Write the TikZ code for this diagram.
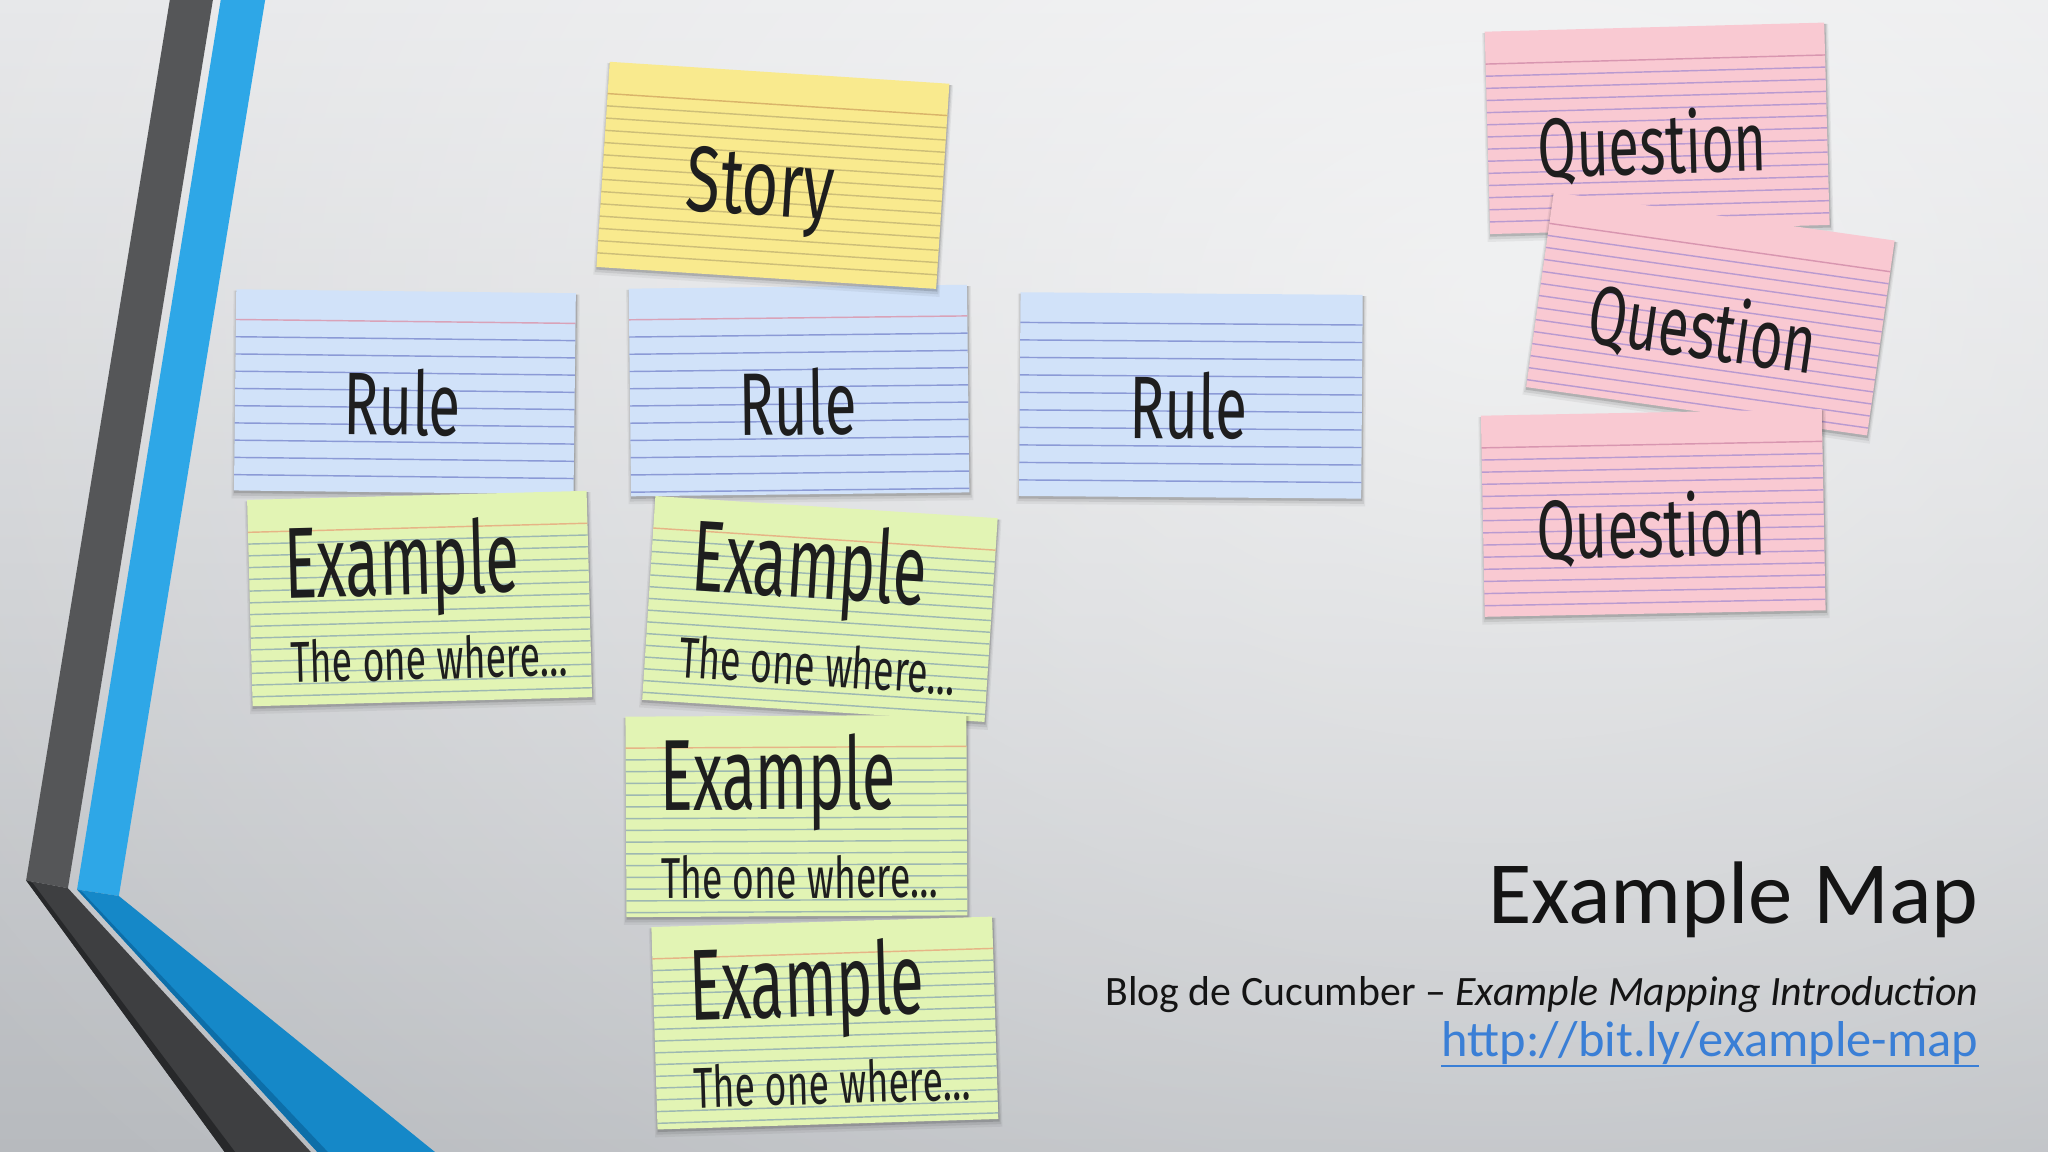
\documentclass[tikz,border=0pt]{standalone}
\usepackage{fontspec}
\setmainfont{Carlito}
\newfontfamily\handfont{Fira Sans}
\usepackage{graphicx}
\usetikzlibrary{fadings}

\definecolor{bgtop}{HTML}{E5E6E8}
\definecolor{bgbot}{HTML}{B7BABE}
\definecolor{darkup}{HTML}{555658}
\definecolor{darklow}{HTML}{3E3F41}
\definecolor{darkedge}{HTML}{27282A}
\definecolor{blueup}{HTML}{2EA7E7}
\definecolor{bluelow}{HTML}{1588C8}
\definecolor{blueedge}{HTML}{0D6EA8}
\definecolor{titlecol}{HTML}{141414}
\definecolor{urlcol}{HTML}{3A7FD6}
\definecolor{inkcol}{HTML}{1E1E1E}
% card colours
\definecolor{Yfill}{HTML}{F9EA8E}
\definecolor{Yline}{HTML}{CDBE78}
\definecolor{Ytop}{HTML}{D9B46A}
\definecolor{Bfill}{HTML}{D1E2F9}
\definecolor{Bline}{HTML}{8B9AD6}
\definecolor{Btop}{HTML}{D9A2B8}
\definecolor{Cfill}{HTML}{D1E2F9}
\definecolor{Cline}{HTML}{8B9AD6}
\definecolor{Ctop}{HTML}{8B9AD6}
\definecolor{Gfill}{HTML}{E2F4B4}
\definecolor{Gline}{HTML}{9DB8B2}
\definecolor{Gtop}{HTML}{E6B486}
\definecolor{Pfill}{HTML}{F9C9D2}
\definecolor{Pline}{HTML}{B99AD0}
\definecolor{Ptop}{HTML}{D896B0}

\tikzfading[name=bgglow, inner color=transparent!0, outer color=transparent!100]

\tikzset{
  cardline/.style={line width=0.55pt},
  handtext/.style={anchor=base, inner sep=0pt, transform shape, text=inkcol, font=\handfont},
  slidetext/.style={anchor=base east, inner sep=0pt, text=titlecol}
}

% #1 cx, #2 cy, #3 angle, #4 w, #5 h, #6 type, #7 line spacing, #8 header fraction, #9 content
\newcommand\idxcard[9]{%
  \begin{scope}[shift={(#1,#2)}, rotate=#3]
    \fill[black, opacity=0.05] ({-#4/2-2},{-#5/2+1}) rectangle ({#4/2+3},{#5/2+6});
    \fill[black, opacity=0.08] ({-#4/2-1},{-#5/2+1}) rectangle ({#4/2+2},{#5/2+4});
    \fill[black, opacity=0.14] ({-#4/2},{-#5/2+1}) rectangle ({#4/2+1},{#5/2+2});
    \fill[#6fill] ({-#4/2},{-#5/2}) rectangle ({#4/2},{#5/2});
    \pgfmathsetmacro\cardtop{-#5/2+#8*#5}
    \draw[#6top, cardline] ({-#4/2},\cardtop) -- ({#4/2},\cardtop);
    \pgfmathtruncatemacro\cardn{(#5*(1-#8)-3)/#7}
    \foreach \k in {1,...,\cardn}{
      \draw[#6line, cardline] ({-#4/2},{\cardtop+\k*#7}) -- ({#4/2},{\cardtop+\k*#7});
    }
    #9
  \end{scope}}

\begin{document}
\begin{tikzpicture}[x=0.5pt, y=-0.5pt]
\useasboundingbox (0,0) rectangle (1568,882);
% background
\shade[top color=bgtop, bottom color=bgbot] (0,0) rectangle (1568,882);
\begin{scope}
  \clip (0,0) rectangle (1568,882);
  \fill[white, opacity=0.6, path fading=bgglow] (1150,230) ellipse (1400 and 1000);
\end{scope}

% left stripes
\fill[darkup] (130,0) -- (163,0) -- (52,680) -- (20,674) -- cycle;
\fill[darklow] (20,674) -- (52,680) -- (238,882) -- (172,882) -- cycle;
\fill[darkedge] (20,674) -- (25,676) -- (180,882) -- (172,882) -- cycle;
\fill[blueup] (169,0) -- (203,0) -- (91,686) -- (59,681) -- cycle;
\fill[bluelow] (59,681) -- (91,686) -- (333,882) -- (243,882) -- cycle;
\fill[blueedge] (59,681) -- (63,683) -- (251,882) -- (243,882) -- cycle;

% rule cards
\idxcard{310}{300}{-0.66}{260}{154}{B}{13.2}{0.15}{%
  \node[handtext] (rule1) at (-2,33) {\resizebox{45pt}{25.5pt}{Rule}};}
\idxcard{611.75}{299}{0.66}{259}{159}{B}{13.2}{0.15}{%
  \node[handtext] (rule2) at (-1,34) {\resizebox{45pt}{25.5pt}{Rule}};}
\idxcard{911.75}{302.75}{-0.44}{262}{156}{C}{13.4}{0.148}{%
  \node[handtext] (rule3) at (-2,33) {\resizebox{45pt}{25.5pt}{Rule}};}

% story card
\idxcard{591.75}{134.25}{-3.7}{260.6}{157.4}{Y}{9.4}{0.155}{%
  \node[handtext] (story) at (-9,31) {\resizebox{56.5pt}{25pt}{Story}};}

% example cards
\idxcard{321.25}{458.25}{1.54}{260}{158}{G}{9}{0.157}{%
  \node[handtext] (ex1) at (-13,-3) {\resizebox{90pt}{29pt}{Example}};
  \node[handtext] (ex1t) at (6,62) {\resizebox{106pt}{16.5pt}{The one where…}};}
\idxcard{627.75}{466.25}{-3.7}{262.6}{156.3}{G}{9}{0.157}{%
  \node[handtext] (ex2) at (-10,-8) {\resizebox{90pt}{29pt}{Example}};
  \node[handtext] (ex2t) at (1,59) {\resizebox{106pt}{16.5pt}{The one where…}};}
\idxcard{609.75}{624.75}{0.3}{261}{153.5}{G}{9}{0.157}{%
  \node[handtext] (ex3) at (-14,-5) {\resizebox{90pt}{29pt}{Example}};
  \node[handtext] (ex3t) at (2,63) {\resizebox{106pt}{16.5pt}{The one where…}};}
\idxcard{631.5}{783.25}{1.76}{261}{155}{G}{9}{0.157}{%
  \node[handtext] (ex4) at (-13,-5) {\resizebox{90pt}{29pt}{Example}};
  \node[handtext] (ex4t) at (4,62) {\resizebox{106pt}{16.5pt}{The one where…}};}

% question cards
\idxcard{1268.75}{98.25}{1.54}{260}{155}{P}{9.3}{0.16}{%
  \node[handtext] (q1) at (-4,35) {\resizebox{87.5pt}{25pt}{Question}};}
\idxcard{1309.5}{240.25}{-8.07}{263.6}{150.7}{P}{9.3}{0.16}{%
  \node[handtext] (q2) at (-4,35) {\resizebox{87.5pt}{25pt}{Question}};}
\idxcard{1265.75}{392.75}{1.1}{261}{154}{P}{9.3}{0.16}{%
  \node[handtext] (q3) at (-2,34) {\resizebox{87.5pt}{25pt}{Question}};}

% slide text
\node[slidetext, font=\fontsize{34}{41}\selectfont] (title) at (1515,707) {Example Map};
\node[slidetext, font=\fontsize{16}{19}\selectfont] (blog) at (1515,769.5)
  {Blog de Cucumber – \textit{Example Mapping Introduction}};
\node[slidetext, text=urlcol, font=\fontsize{19.3}{23}\selectfont] (url) at (1515,809)
  {http://bit.ly/example-map};
\draw[urlcol, line width=0.9pt] ([yshift=-3.5pt]url.base west) -- ([yshift=-3.5pt]url.base east);
\end{tikzpicture}
\end{document}
